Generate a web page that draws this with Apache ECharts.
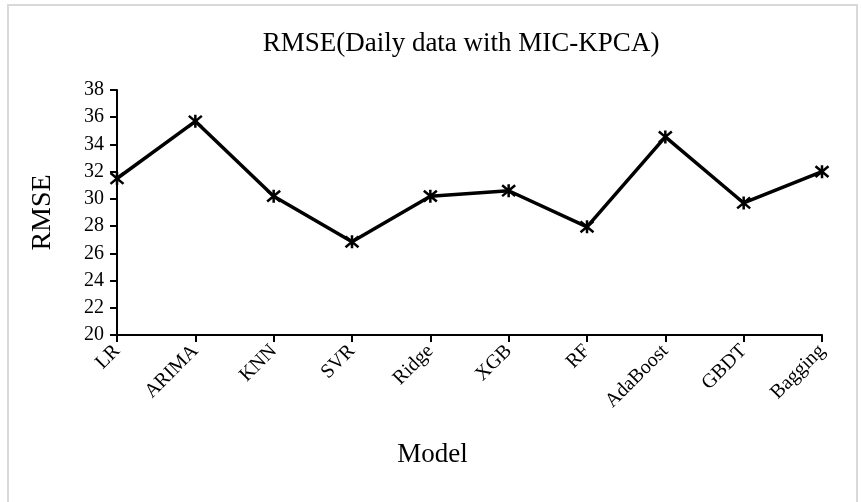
<!DOCTYPE html>
<html>
<head>
<meta charset="utf-8">
<script src="https://cdn.jsdelivr.net/npm/echarts@6/dist/echarts.min.js"></script>
<style>
  html, body { margin: 0; padding: 0; background: #fff; }
  #chart { width: 861px; height: 502px; }
</style>
</head>
<body>
<div id="chart"></div>
<script>
// data
const models = ["LR", "ARIMA", "KNN", "SVR", "Ridge", "XGB", "RF", "AdaBoost", "GBDT", "Bagging"];
const rmse = [31.5, 35.7, 30.2, 26.85, 30.2, 30.6, 27.95, 34.55, 29.7, 32.0];
const yMin = 20;
const yMax = 38;
const yStep = 2;

const serif = "'Liberation Serif', 'DejaVu Serif', serif";

const chart = echarts.init(document.getElementById("chart"));

const option = {
  backgroundColor: "#fff",
  animation: false,
  title: {
    text: "RMSE(Daily data with MIC-KPCA)",
    left: 456,
    textAlign: "center",
    top: 25,
    textStyle: {
      fontFamily: serif,
      fontWeight: "normal",
      fontSize: 27,
      color: "#000"
    }
  },
  graphic: [
    {
      // light grey frame round the chart
      type: "rect",
      shape: { x: 8, y: 5, width: 849, height: 520 },
      style: { fill: "none", stroke: "#d9d9d9", lineWidth: 2 },
      silent: true
    }
  ],
  grid: {
    left: 117,
    right: 39,
    top: 90,
    bottom: 167,
    containLabel: false
  },
  xAxis: {
    type: "category",
    data: models,
    boundaryGap: false,
    name: "Model",
    nameLocation: "middle",
    nameGap: 106,
    nameTextStyle: {
      fontFamily: serif,
      fontSize: 27,
      color: "#000",
      padding: [0, 74, 0, 0]
    },
    axisLine: { lineStyle: { color: "#000", width: 2 } },
    axisTick: { show: true, inside: false, length: 7, alignWithLabel: true, lineStyle: { color: "#000", width: 2 } },
    axisLabel: {
      rotate: 45,
      margin: 13,
      fontFamily: serif,
      fontSize: 20,
      color: "#000",
      interval: 0
    },
    splitLine: { show: false }
  },
  yAxis: {
    type: "value",
    min: yMin,
    max: yMax,
    interval: yStep,
    name: "RMSE",
    nameLocation: "middle",
    nameGap: 60,
    nameTextStyle: {
      fontFamily: serif,
      fontSize: 28,
      color: "#000"
    },
    axisLine: { show: true, lineStyle: { color: "#000", width: 2 } },
    axisTick: { show: true, length: 7, lineStyle: { color: "#000", width: 2 } },
    axisLabel: {
      margin: 13,
      fontFamily: serif,
      fontSize: 20,
      color: "#000"
    },
    splitLine: { show: false }
  },
  series: [
    {
      type: "line",
      data: rmse,
      symbol: "path://M-1,-1L1,1M-1,1L1,-1M0,-1.2L0,1.2",
      symbolSize: 13,
      showAllSymbol: true,
      lineStyle: { color: "#000", width: 3.5 },
      itemStyle: { color: "#000", borderColor: "#000", borderWidth: 2.5 }
    }
  ]
};

chart.setOption(option);
</script>
</body>
</html>
